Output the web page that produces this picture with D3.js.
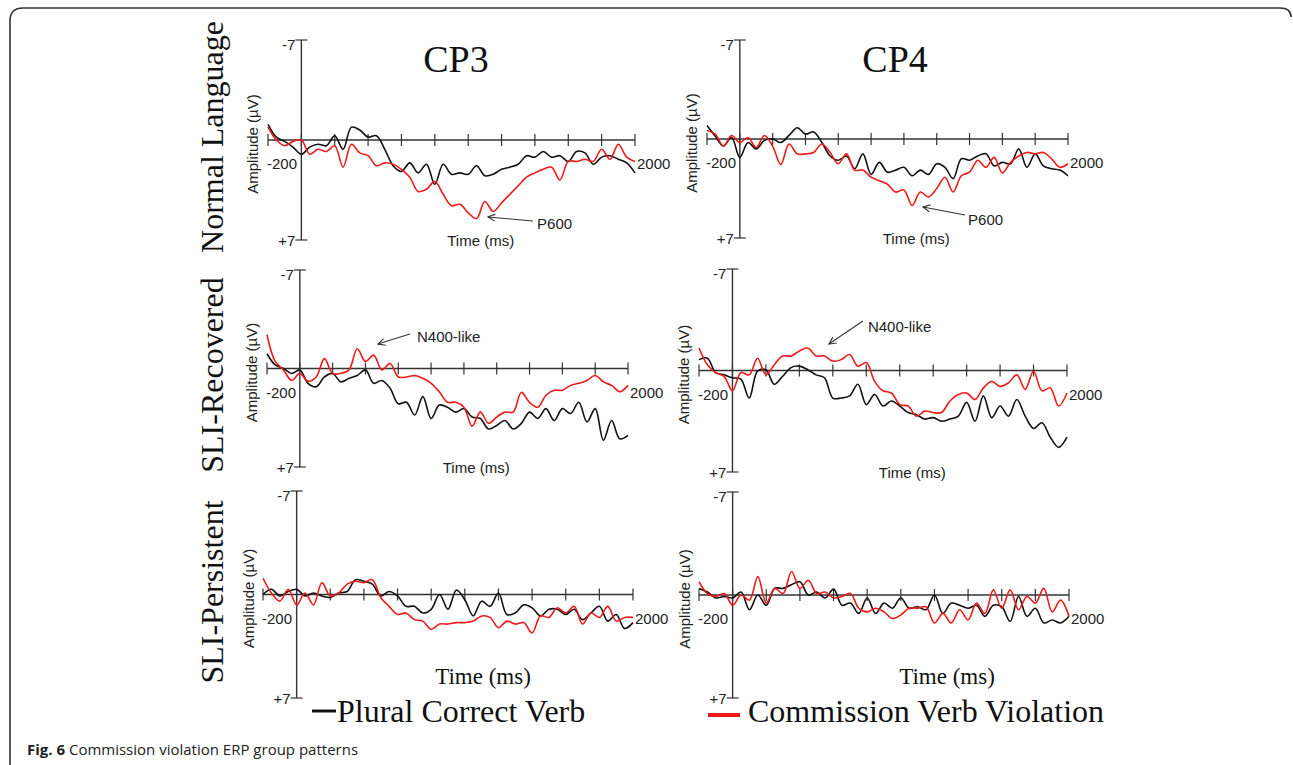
<!DOCTYPE html>
<html><head><meta charset="utf-8">
<script src="https://cdn.jsdelivr.net/npm/d3@7/dist/d3.min.js"></script>
<style>body{margin:0;background:#fff}svg{display:block}</style>
</head><body><svg id="c" width="1293" height="765"></svg>
<script>
// ---------- data ----------
const times = d3.range(-200, 2001, 50);           // ms, 45 samples
const xTickValues = d3.range(-200, 2001, 200);
const yTickValues = [-7, 7];
const yTickLabels = ["-7", "+7"];
const xEndLabels = ["-200", "2000"];
const groups = ["Normal Language", "SLI-Recovered", "SLI-Persistent"];
const electrodes = ["CP3", "CP4"];
const seriesNames = ["Plural Correct Verb", "Commission Verb Violation"];
const seriesColors = ["#111111", "#f01a1a"];

// amplitude in µV (negative up)
const normalCP3Correct = [-1.1,-0.2,0.1,0.5,1.0,0.5,0.3,0.4,-0.3,0.65,-0.9,-0.7,-0.2,-0.3,0.65,1.8,2.2,1.6,2.3,1.7,3.1,1.7,2.4,2.3,2.4,1.8,2.5,2.4,2.05,1.9,1.7,1.1,1.2,0.8,1.2,1.1,1.5,0.8,0.9,1.7,1.2,1.1,1.35,1.6,2.3];
const normalCP3Violation = [-0.9,0,0.4,0.1,0,1.0,0.65,0.8,0.4,1.9,0.3,0.9,1.1,1.8,1.6,1.7,2.05,2.6,3.6,3.45,2.9,3.8,4.6,4.5,5.1,5.5,4.3,5.0,4.4,3.8,3.2,2.6,2.3,2.05,1.9,2.8,1.5,1.5,1.35,1.5,0.65,1.35,0.3,1.2,1.5];
const normalCP4Correct = [-0.95,-0.2,0.5,-0.1,1.3,0.25,0.7,0.1,0,0.25,-0.25,-0.8,-0.35,-0.5,0.25,1.2,1.5,1.2,2.1,1.05,2.5,1.65,2.35,2.2,2.0,2.6,2.2,2.5,1.75,2.0,2.8,1.4,1.5,1.2,1.05,1.9,1.65,1.75,0.7,2.0,1.05,1.9,2.1,2.2,2.6];
const normalCP4Violation = [-0.6,-0.35,0.5,-0.25,0.25,-0.1,0.6,-0.25,0.5,1.8,0.35,1.05,1.05,0.95,0.35,0.95,1.75,1.05,2.2,2.2,2.7,2.95,3.2,3.75,3.6,4.7,3.75,4.1,3.5,2.7,3.75,2.6,2.35,1.5,2.0,1.3,2.4,1.65,1.2,0.95,1.05,0.95,1.4,2.0,1.75];
const recoveredCP3Correct = [-1.05,-0.25,0,0.35,0.1,1.05,1.3,0.6,0.35,0.95,0.7,0.5,0.1,1.05,0.85,1.4,2.5,2.4,3.3,2.0,3.55,2.6,2.75,3.1,2.85,3.45,3.55,4.3,4.05,3.7,4.3,3.9,3.1,3.55,2.85,3.7,2.85,3.2,2.4,3.8,2.85,5.1,3.7,5.0,4.75];
const recoveredCP3Violation = [-2.4,-0.5,0.1,0.85,0.35,0.9,0.6,-0.7,0.35,0.35,0.1,-1.4,-0.5,-0.95,0.1,-0.35,0.6,0.6,0.5,0.7,1.05,1.65,2.4,2.4,2.75,4.1,3.1,3.9,3.45,3.1,3.1,1.7,2.4,2.75,1.9,1.55,1.55,1.2,1.05,0.85,0.5,0.95,1.2,1.65,1.2];
const recoveredCP4Correct = [-0.75,-0.85,0.15,0.3,0.5,0.6,1.9,0.05,-0.05,0.95,0.4,-0.2,-0.3,-0.05,0.3,0.5,1.9,1.9,1.75,0.95,2.35,1.65,2.45,2.1,2.45,2.9,3.05,3.35,3.25,3.5,3.35,3.15,2.2,3.5,1.75,3.25,2.45,3.15,2.0,3.15,4.0,3.6,4.6,5.3,4.6];
const recoveredCP4Violation = [-1.55,-0.4,0.15,0.4,1.4,0.15,0.3,-0.85,0.3,-0.4,-1.0,-1.0,-1.35,-1.55,-1.0,-1.0,-0.65,-0.75,-1.1,-0.3,-0.55,0.75,1.4,1.55,2.35,2.45,3.15,2.8,2.9,2.9,2.1,1.65,1.55,2.0,1.2,0.75,1.1,0.85,0.3,1.3,0.05,1.4,1.2,2.45,1.55];
const persistentCP3Correct = [0,-0.35,0.1,-0.2,-0.35,0.1,-0.1,0.1,0.2,-0.1,-0.2,-1.0,-0.9,-0.7,0.1,-0.2,0.1,0.8,0.8,1.25,1.0,0,1.0,-0.3,0.35,1.45,0.45,0.8,-0.1,1.35,1.25,0.7,0.9,1.45,1.0,1.0,1.35,1.0,1.7,1.25,0.8,1.8,1.35,2.3,1.9];
const persistentCP3Violation = [-1.1,-0.1,0.45,-0.35,0.7,-0.1,0.7,-0.8,0.1,-0.1,-0.7,-0.9,-0.8,-1.0,0.2,0.8,1.35,1.25,1.7,1.8,2.35,2.0,2.0,1.9,1.9,1.8,1.45,1.55,2.25,1.8,2.0,1.9,2.6,1.45,1.55,0.9,1.25,0.8,2.0,1.25,1.55,0.8,1.8,1.55,1.55];
const persistentCP4Correct = [-0.45,-0.2,0.2,0.1,0.2,-0.2,1.0,0,0.7,-0.45,-0.45,-0.7,-0.9,0,-0.2,0.2,-0.4,0.7,0.55,1.25,0.2,1.25,0.55,0.9,0.2,0.9,0.8,1.0,0,1.25,0.55,0.7,0.9,0.7,1.45,0.7,0.8,1.8,0.1,1.45,0.9,1.9,1.7,1.9,1.45];
const persistentCP4Violation = [-0.9,-0.1,0.1,-0.1,0.7,0,0.35,-1.25,0.55,-0.45,-0.1,-1.6,-0.45,-1.0,-0.1,-0.2,0.2,0.1,-0.1,0.9,1.15,0.9,1.15,1.6,1.35,0.9,0.9,0.8,1.9,1.25,1.9,1.0,1.7,0.55,1.25,-0.35,0.9,-0.35,1.0,0.1,0.55,-0.45,1.15,0.35,1.45];

// annotations: [label, textMs, textUv, arrowFromMs, arrowFromUv, arrowToMs, arrowToUv]
const annNormalCP3 = ["P600", 1413, 6.2, 1389, 5.67, 1119, 5.39];
const annNormalCP4 = ["P600", 1391, 6.08, 1372, 5.37, 1116, 4.81];
const annRecoveredCP3 = ["N400-like", 714, -1.88, 671, -2.45, 476, -1.74];
const annRecoveredCP4 = ["N400-like", 810, -2.66, 780, -3.41, 577, -1.83];

// ---------- layout ----------
const panels = [
  {row:0,col:0,x0:268,x1:635,yT:40,yB:240,s:[normalCP3Correct,normalCP3Violation],ann:annNormalCP3},
  {row:0,col:1,x0:707,x1:1068,yT:40,yB:238,s:[normalCP4Correct,normalCP4Violation],ann:annNormalCP4},
  {row:1,col:0,x0:267,x1:628,yT:270,yB:467,s:[recoveredCP3Correct,recoveredCP3Violation],ann:annRecoveredCP3},
  {row:1,col:1,x0:699,x1:1067,yT:269,yB:472,s:[recoveredCP4Correct,recoveredCP4Violation],ann:annRecoveredCP4},
  {row:2,col:0,x0:263,x1:633,yT:491,yB:698,s:[persistentCP3Correct,persistentCP3Violation],ann:null,serifTime:{x:483,y:684}},
  {row:2,col:1,x0:699,x1:1069,yT:492,yB:698,s:[persistentCP4Correct,persistentCP4Violation],ann:null,serifTime:{x:947,y:684}}
];
const SANS = "'Liberation Sans', Arial, sans-serif";
const SERIF = "'Liberation Serif', 'Times New Roman', serif";
const AX = "#333";

const svg = d3.select("#c");
svg.append("rect").attr("width",1293).attr("height",765).attr("fill","#fff");

// frame
svg.append("path").attr("d","M10,770 L10,21 Q10,8 23,8 L1280,8 Q1291,8 1291,17")
  .attr("fill","none").attr("stroke","#333").attr("stroke-width",1.6);

// arrow marker
const defs = svg.append("defs");
defs.append("marker").attr("id","arr").attr("viewBox","0 0 10 10").attr("refX",9).attr("refY",5)
  .attr("markerWidth",8).attr("markerHeight",8).attr("orient","auto-start-reverse")
  .append("path").attr("d","M1,1 L9,5 L1,9").attr("fill","none").attr("stroke","#333").attr("stroke-width",1.3);

panels.forEach(p => {
  const x = d3.scaleLinear().domain([-200, 2000]).range([p.x0, p.x1]);
  const y = d3.scaleLinear().domain([-7, 7]).range([p.yT, p.yB]);
  const g = svg.append("g");

  // x axis
  g.append("line").attr("x1",x(-200)).attr("x2",x(2000)).attr("y1",y(0)).attr("y2",y(0))
    .attr("stroke",AX).attr("stroke-width",1.4);
  g.selectAll(".xt").data(xTickValues).join("line")
    .attr("x1",d=>x(d)).attr("x2",d=>x(d)).attr("y1",y(0)-6).attr("y2",y(0)+6)
    .attr("stroke",AX).attr("stroke-width",1.2);
  // y axis
  g.append("line").attr("x1",x(0)).attr("x2",x(0)).attr("y1",y(-7)).attr("y2",y(7))
    .attr("stroke",AX).attr("stroke-width",1.4);
  g.selectAll(".yt").data(yTickValues).join("line")
    .attr("x1",x(0)-6).attr("x2",x(0)+6).attr("y1",d=>y(d)).attr("y2",d=>y(d))
    .attr("stroke",AX).attr("stroke-width",1.2);
  g.selectAll(".yl").data(yTickValues).join("text")
    .attr("x",x(0)-6).attr("y",(d,i)=>y(d)+(i===0?10:6)).attr("text-anchor","end")
    .attr("font-family",SANS).attr("font-size",15).attr("fill","#222")
    .text((d,i)=>yTickLabels[i]);
  // end labels of x axis
  g.append("text").attr("x",x(-200)-1).attr("y",y(0)+29).attr("font-family",SANS)
    .attr("font-size",15).attr("fill","#222").text(xEndLabels[0]);
  g.append("text").attr("x",x(2000)+2).attr("y",y(0)+29).attr("font-family",SANS)
    .attr("font-size",15).attr("fill","#222").text(xEndLabels[1]);
  // amplitude label
  g.append("text").attr("transform",`translate(${x(0)-43},${y(0)+4}) rotate(-90)`)
    .attr("text-anchor","middle").attr("font-family",SANS).attr("font-size",15).attr("fill","#222")
    .text("Amplitude (µV)");
  // time label
  if (p.serifTime) {
    g.append("text").attr("x",p.serifTime.x).attr("y",p.serifTime.y).attr("text-anchor","middle")
      .attr("font-family",SERIF).attr("font-size",23).attr("fill","#111").text("Time (ms)");
  } else {
    g.append("text").attr("x",x(1075)).attr("y",y(7)+6).attr("text-anchor","middle")
      .attr("font-family",SANS).attr("font-size",15).attr("fill","#222").text("Time (ms)");
  }

  // waveforms
  const line = d3.line().x((d,i)=>x(times[i])).y(d=>y(d)).curve(d3.curveCatmullRom.alpha(0.5));
  p.s.forEach((vals, si) => {
    g.append("path").datum(vals).attr("d",line).attr("fill","none")
      .attr("stroke",seriesColors[si]).attr("stroke-width",1.6).attr("stroke-linejoin","round");
  });

  // annotation
  if (p.ann) {
    const a = p.ann;
    g.append("line").attr("x1",x(a[3])).attr("y1",y(a[4])).attr("x2",x(a[5])).attr("y2",y(a[6]))
      .attr("stroke","#333").attr("stroke-width",1.1).attr("marker-end","url(#arr)");
    g.append("text").attr("x",x(a[1])).attr("y",y(a[2])).attr("font-family",SANS)
      .attr("font-size",15).attr("fill","#222").text(a[0]);
  }

  // column title
  if (p.row === 0) {
    g.append("text").attr("x",x(p.col===0?927:946)).attr("y",72).attr("text-anchor","middle")
      .attr("font-family",SERIF).attr("font-size",38).attr("fill","#111").text(electrodes[p.col]);
  }
  // row label
  if (p.col === 0) {
    const cy = [137, 375, 592][p.row];
    svg.append("text").attr("transform",`translate(223,${cy}) rotate(-90)`).attr("text-anchor","middle")
      .attr("font-family",SERIF).attr("font-size",32).attr("fill","#111").text(groups[p.row]);
  }
});

// legend
const legend = [
  {x1:312,x2:336,ly:711,w:3,tx:337},
  {x1:708,x2:740,ly:715,w:4,tx:748}
];
legend.forEach((l,i)=>{
  svg.append("line").attr("x1",l.x1).attr("x2",l.x2).attr("y1",l.ly).attr("y2",l.ly)
    .attr("stroke",seriesColors[i]).attr("stroke-width",l.w);
  svg.append("text").attr("x",l.tx).attr("y",722).attr("font-family",SERIF).attr("font-size",32)
    .attr("fill","#111").text(seriesNames[i]);
});

// caption
const cap = svg.append("text").attr("x",27).attr("y",755).attr("font-family","'Open Sans', sans-serif")
  .attr("font-size",15).attr("fill","#222");
cap.append("tspan").attr("font-weight","bold").text("Fig. 6");
cap.append("tspan").text(" Commission violation ERP group patterns");
</script></body></html>
